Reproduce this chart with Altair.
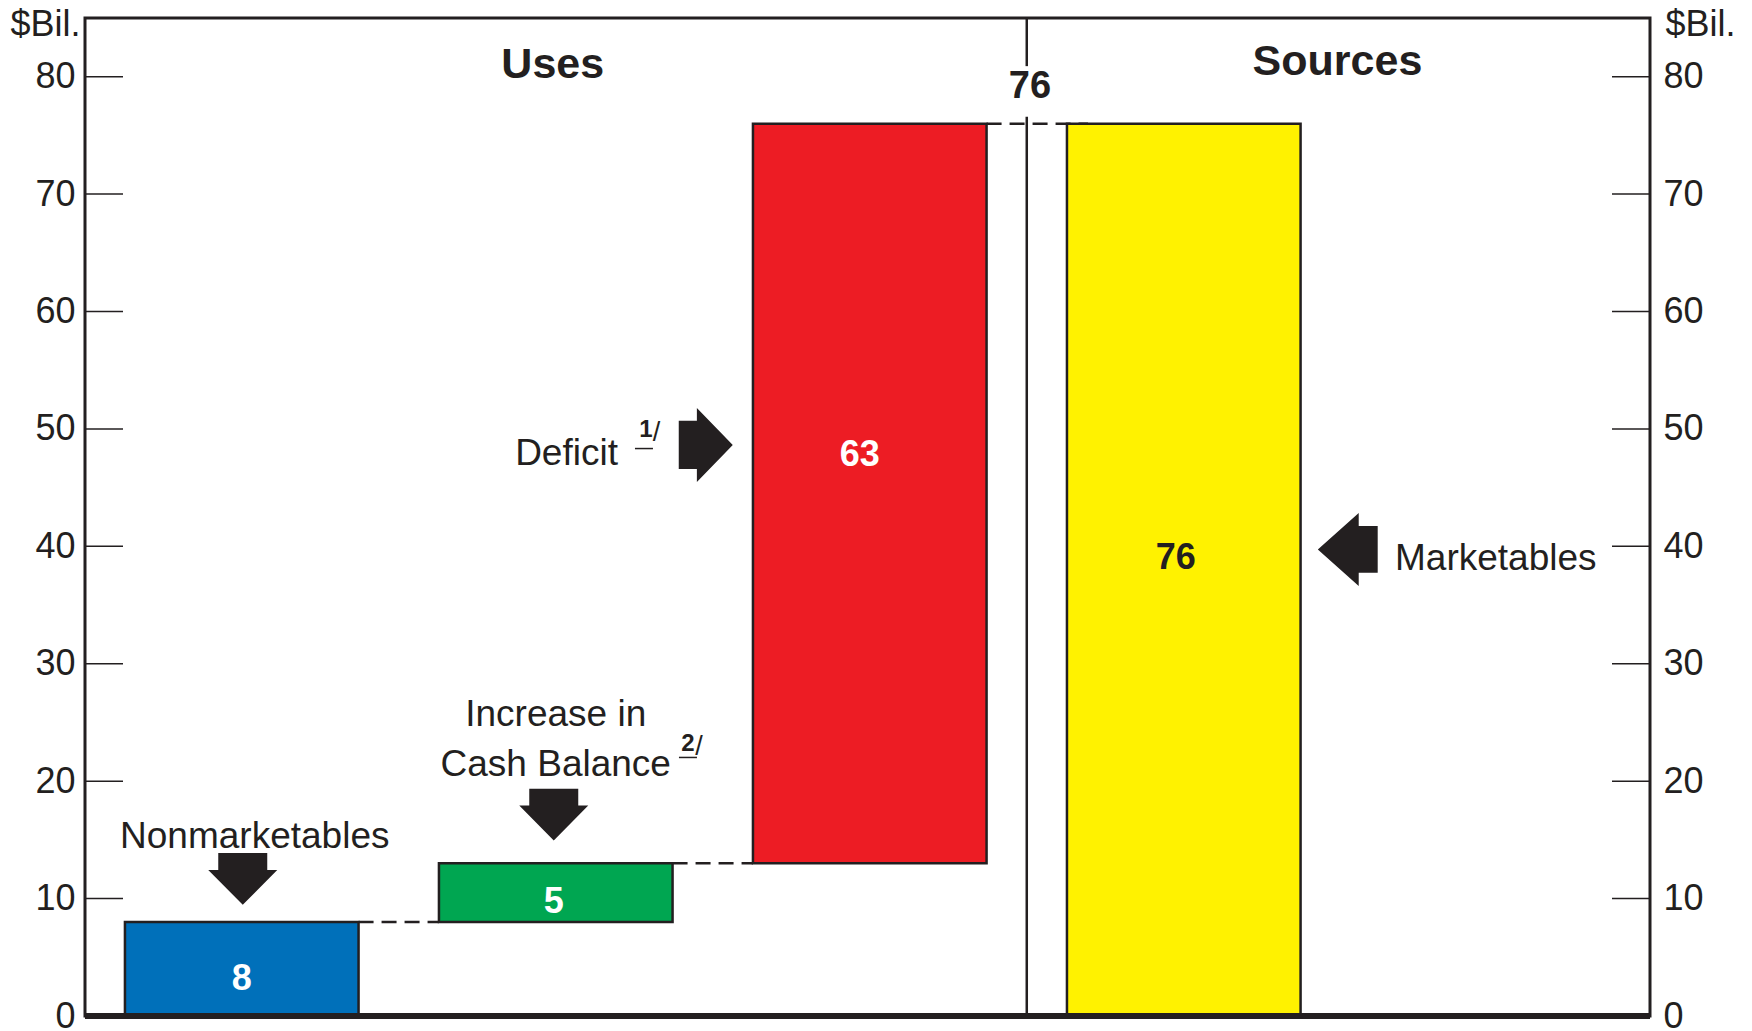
import altair as alt
import pandas as pd

FONT = "Liberation Sans"
DARK = "#231F20"

# ---------------- data ----------------
categories = ["Nonmarketables", "Cash Balance", "Deficit", "Marketables", "Spacer"]
bar_cats = ["Nonmarketables", "Cash Balance", "Deficit", "Marketables"]
bar_base = [0, 8, 13, 0]
bar_values = [8, 5, 63, 76]
bar_colors = ["#0070BA", "#00A651", "#ED1C24", "#FFF200"]
value_label_colors = ["#FFFFFF", "#FFFFFF", "#FFFFFF", DARK]
total_uses = 76
y_tick_labels = [0, 10, 20, 30, 40, 50, 60, 70, 80]
y_tick_marks = [10, 20, 30, 40, 50, 60, 70, 80]
conn_from = ["Nonmarketables", "Cash Balance", "Deficit"]
conn_to = ["Cash Balance", "Deficit", "Marketables"]
conn_level = [8, 13, 76]

# ---------------- layout ----------------
W, H = 1565, 998
Y_MAX = 85

bars_df = pd.DataFrame({"cat": bar_cats, "base": bar_base, "value": bar_values})
bars_df["top"] = bars_df["base"] + bars_df["value"]
bars_df["mid"] = bars_df["base"] + bars_df["value"] / 2
bars_df["label"] = bars_df["value"].astype(str)

xscale = alt.Scale(domain=categories, paddingInner=0.256, paddingOuter=0.12, align=0.53)
yscale = alt.Scale(domain=[0, Y_MAX], nice=False, zero=True)


def X(field="cat", bp=0.5):
    return alt.X(f"{field}:N", scale=xscale, axis=None, bandPosition=bp)


def Y(field="y"):
    return alt.Y(f"{field}:Q", scale=yscale, axis=None)


layers = []

# bars
layers.append(
    alt.Chart(bars_df).mark_bar(stroke=DARK, strokeWidth=2.5).encode(
        x=alt.X("cat:N", scale=xscale, axis=None),
        y=Y("base"),
        y2="top:Q",
        color=alt.Color("cat:N", scale=alt.Scale(domain=bar_cats, range=bar_colors), legend=None),
    )
)

# dashed connectors
conn_df = pd.DataFrame({"from": conn_from, "to": conn_to, "y": conn_level})
layers.append(
    alt.Chart(conn_df.iloc[:2]).mark_rule(strokeDash=[15, 8], strokeWidth=2.5, color=DARK).encode(
        x=alt.X("from:N", scale=xscale, axis=None, bandPosition=1),
        x2=alt.X2("to:N", bandPosition=0),
        y=Y("y"),
    )
)
layers.append(
    alt.Chart(conn_df.iloc[2:]).mark_rule(strokeDash=[15, 8], strokeWidth=2.5, color=DARK).encode(
        x=alt.X("from:N", scale=xscale, axis=None, bandPosition=1),
        x2=alt.X2("to:N", bandPosition=0.09),
        y=Y("y"),
    )
)

# value labels inside bars
label_dx = [0, -2, -10, -8]
label_dy = [21, 20, -28, -1]
for i, c in enumerate(bar_cats):
    layers.append(
        alt.Chart(bars_df).transform_filter(alt.datum.cat == c).mark_text(
            font=FONT, fontSize=36, fontWeight="bold", color=value_label_colors[i],
            baseline="alphabetic", align="center", dx=label_dx[i], dy=label_dy[i],
        ).encode(x=X(), y=Y("mid"), text="label:N")
    )

# divider between Uses and Sources
div_df = pd.DataFrame({"cat": ["Marketables", "Marketables"],
                       "y": [0, total_uses + 4.9], "y2": [total_uses + 0.6, Y_MAX]})
layers.append(
    alt.Chart(div_df).mark_rule(strokeWidth=2.5, color=DARK, xOffset=-157).encode(
        x=X(), y=Y("y"), y2="y2:Q"
    )
)

# bottom baseline
layers.append(
    alt.Chart(pd.DataFrame({"y": [0]})).mark_rule(strokeWidth=6, color=DARK).encode(y=Y("y"))
)


def note(cat, y, text, dx=0, size=37, weight="normal", align="center", **kw):
    df = pd.DataFrame({"cat": [cat], "y": [y], "t": [text]})
    return alt.Chart(df).mark_text(
        font=FONT, fontSize=size, fontWeight=weight, align=align,
        baseline="alphabetic", dx=dx, color=DARK, **kw
    ).encode(x=X(), y=Y("y"), text="t:N")


def arrow(cat, y, path, size, dx=0):
    df = pd.DataFrame({"cat": [cat], "y": [y]})
    return alt.Chart(df).mark_point(
        shape=path, size=size, filled=True, fill=DARK, strokeWidth=0, opacity=1, xOffset=dx
    ).encode(x=X(), y=Y("y"))


def underline(cat, y, dx, length=18):
    df = pd.DataFrame({"cat": [cat], "y": [y]})
    return alt.Chart(df).mark_tick(
        orient="horizontal", size=length, thickness=1.5, color=DARK, opacity=1, xOffset=dx
    ).encode(x=X(), y=Y("y"))


RIGHT = "M-0.73,-0.65 L-0.24,-0.65 L-0.24,-1 L0.73,0 L-0.24,1 L-0.24,0.65 L-0.73,0.65 Z"
DOWN = "M-0.71,-0.75 L0.71,-0.75 L0.71,-0.26 L1,-0.26 L0,0.75 L-1,-0.26 L-0.71,-0.26 Z"
LEFT = "M0.82,-0.64 L0.3,-0.64 L0.3,-1 L-0.82,0 L0.3,1 L0.3,0.64 L0.82,0.64 Z"

# panel headers
layers.append(note("Cash Balance", 79.89, "Uses", dx=-3, size=43, weight="bold"))
layers.append(note("Marketables", 80.15, "Sources", dx=153.7, size=43, weight="bold"))
layers.append(note("Marketables", 78.19, str(total_uses), dx=-153.8, size=38, weight="bold"))

# annotations
layers.append(note("Nonmarketables", 14.31, "Nonmarketables", dx=13))
layers.append(arrow("Nonmarketables", 11.67, DOWN, 4761, dx=1))

layers.append(note("Cash Balance", 24.70, "Increase in\nCash Balance", dx=0, lineBreak="\n", lineHeight=50))
layers.append(arrow("Cash Balance", 17.16, DOWN, 4761, dx=-2))
layers.append(note("Cash Balance", 22.57, "2", dx=125.5, size=24, weight="bold", align="left"))
layers.append(note("Cash Balance", 22.25, "/", dx=139.5, size=27, align="left"))
layers.append(underline("Cash Balance", 22.02, 132.2))

layers.append(note("Deficit", 46.93, "Deficit", dx=-251.8, align="right"))
layers.append(note("Deficit", 49.31, "1", dx=-230.5, size=24, weight="bold", align="left"))
layers.append(note("Deficit", 48.95, "/", dx=-217.0, size=27, align="left"))
layers.append(underline("Deficit", 48.33, -225.8))
layers.append(arrow("Deficit", 48.64, RIGHT, 5476, dx=-164))

layers.append(arrow("Marketables", 39.74, LEFT, 5329, dx=164))
layers.append(note("Spacer", 37.99, "Marketables", dx=-2))

# axes with inward ticks
ticks_df = pd.DataFrame({"v": y_tick_marks})
axis_common = dict(
    values=y_tick_labels, ticks=False, tickSize=0, domain=False, grid=False,
    labelFont=FONT, labelFontSize=36, labelColor=DARK, labelFlush=False, labelOverlap=False,
    title="$Bil.", titleAngle=0, titleFont=FONT, titleFontSize=36, titleFontWeight="normal",
    titleColor=DARK, titleBaseline="alphabetic", titleY=17,
)
left_axis = alt.Axis(orient="left", labelPadding=10, titleAlign="right", titleX=-5, **axis_common)
right_axis = alt.Axis(orient="right", labelPadding=13, titleAlign="left", titleX=15, **axis_common)

layers.append(
    alt.Chart(ticks_df).mark_rule(strokeWidth=1.5, color=DARK).encode(
        y=alt.Y("v:Q", scale=yscale, axis=left_axis), x=alt.value(0), x2=alt.value(38)
    )
)
layers.append(
    alt.Chart(ticks_df).mark_rule(strokeWidth=1.5, color=DARK).encode(
        y=alt.Y("v:Q", scale=yscale, axis=right_axis), x=alt.value(W - 38), x2=alt.value(W)
    )
)

chart = (
    alt.layer(*layers)
    .resolve_axis(y="independent")
    .properties(
        width=W, height=H,
        padding={"left": 77, "top": 10, "right": 92, "bottom": 15},
        autosize=alt.AutoSizeParams(type="none"),
        background="white",
    )
    .configure_view(stroke=DARK, strokeWidth=3)
)

chart.save("out.html", embed_options={"renderer": "svg", "actions": False})
